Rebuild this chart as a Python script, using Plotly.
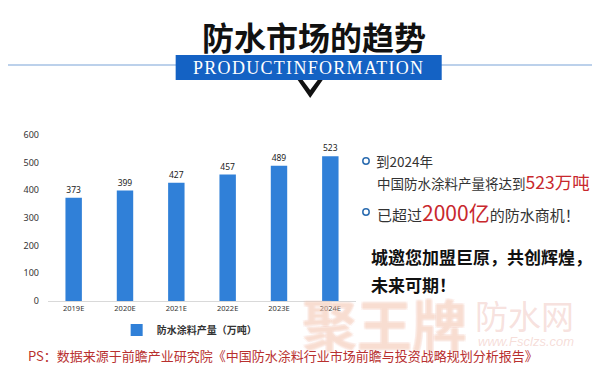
import plotly.graph_objects as go

# ---- data ----
years = ["2019E", "2020E", "2021E", "2022E", "2023E", "2024E"]
output_wt = [373, 399, 427, 457, 489, 523]   # 防水涂料产量（万吨）
series_name = "防水涂料产量（万吨）"
y_ticks = [0, 100, 200, 300, 400, 500, 600]

title_text = "防水市场的趋势"
banner_text = "PRODUCTINFORMATION"
note_line1 = "到2024年"
note_line2a = "中国防水涂料产量将达到"
note_line2b = "523万吨"
note_line3a = "已超过"
note_line3b = "2000亿"
note_line3c = "的防水商机！"
slogan1 = "城邀您加盟巨原，共创辉煌，"
slogan2 = "未来可期！"
source_text = "PS：数据来源于前瞻产业研究院《中国防水涂料行业市场前瞻与投资战略规划分析报告》"
wm_big = "聚王牌"
wm_mid = "防水网"
wm_url = "www.Fsclzs.com"

# ---- layout geometry (pixels) ----
W, H = 600, 369
X0, X1 = 40.35, 348.3
YB, YT = 293, 127
PW, PH = X1 - X0, YB - YT


def px(x):
    return (x - X0) / PW


def py(y):
    return (YB - y) / PH


CJK = "Noto Sans CJK SC"
BLUE = "#1462c4"
RED = "#c8282d"
TXT = "#333333"

fig = go.Figure()
fig.add_trace(go.Bar(
    x=years, y=output_wt, name=series_name,
    marker=dict(color="#3080d8", line=dict(width=0)),
    texttemplate="%{y}", textposition="outside",
    textfont=dict(size=8.5, color="#222222", family="Noto Sans"),
    cliponaxis=False,
))

shapes = []
# horizontal header line
shapes.append(dict(type="line", xref="paper", yref="paper",
                   x0=px(0), x1=px(600), y0=py(57), y1=py(57),
                   line=dict(color="#7aa3d8", width=1.2), layer="below"))
# banner
shapes.append(dict(type="rect", xref="paper", yref="paper",
                   x0=px(168), x1=px(434), y0=py(72), y1=py(47),
                   fillcolor=BLUE, line=dict(width=0), layer="above"))
# chevron
pts = [(290, 72), (302.5, 90), (315, 72), (310, 72), (302.5, 82), (295, 72)]
path = "M " + " L ".join(f"{px(a):.5f},{py(b):.5f}" for a, b in pts) + " Z"
shapes.append(dict(type="path", xref="paper", yref="paper", path=path,
                   fillcolor="#111111", line=dict(width=0)))
# bullets
for yy in (153, 204):
    r = 3.2
    shapes.append(dict(type="circle", xref="paper", yref="paper",
                       x0=px(358.3 - r), x1=px(358.3 + r), y0=py(yy + r), y1=py(yy - r),
                       line=dict(color="#2b6cb0", width=1.5), fillcolor="rgba(0,0,0,0)"))
# bottom faint line
shapes.append(dict(type="line", xref="paper", yref="paper",
                   x0=px(0), x1=px(600), y0=py(367), y1=py(367),
                   line=dict(color="#eeeeee", width=1)))

ann = []


def add_text(x, y, text, size, color=TXT, anchor="left", family=CJK, weight="normal",
             style="normal", shadow=None):
    f = dict(size=size, color=color, family=family, weight=weight, style=style)
    if shadow:
        f["shadow"] = shadow
    ann.append(dict(x=px(x), y=py(y), xref="paper", yref="paper", text=text,
                    showarrow=False, xanchor=anchor, yanchor="middle", font=f))


# watermark first (drawn beneath other annotations), semi-transparent
oc = "rgba(235,170,160,0.35)"
outline = f"1px 1px 0 {oc}, -1px -1px 0 {oc}, 1px -1px 0 {oc}, -1px 1px 0 {oc}"
add_text(377, 314, wm_big, 55, color="rgba(248,220,200,0.35)", anchor="center",
         weight="bold", shadow=outline)
add_text(517, 307, wm_mid, 33, color="rgba(235,180,170,0.4)", anchor="center")
add_text(518, 333, wm_url, 13, color="rgba(235,180,170,0.45)", anchor="center",
         family="Liberation Sans", style="italic")

add_text(306, 28, title_text, 32, color="#111111", anchor="center", weight="bold")
add_text(301, 59.5, f'<span style="letter-spacing:1.3px">{banner_text}</span>', 18,
         color="#ffffff", anchor="center", family="Liberation Serif")

add_text(366, 153, note_line1, 13.5)
add_text(367, 173, f'{note_line2a}<span style="font-size:17.5px;color:{RED}">{note_line2b}</span>', 13.5)
add_text(367, 204, f'{note_line3a}<span style="font-size:21px;color:{RED}">{note_line3b}</span>{note_line3c}', 15)
add_text(361, 248, slogan1, 17, color="#111111", weight="bold")
add_text(361, 276, slogan2, 17, color="#111111", weight="bold")

add_text(18, 347, source_text, 13, color="#b8302f")

fig.update_layout(
    width=W, height=H,
    margin=dict(l=X0, r=W - X1, t=YT, b=H - YB, pad=0, autoexpand=False),
    paper_bgcolor="#ffffff", plot_bgcolor="#ffffff",
    bargap=0.68,
    showlegend=True,
    legend=dict(orientation="h", x=px(109), y=py(322), xanchor="left", yanchor="middle",
                font=dict(size=10, color=TXT, family=CJK, weight="bold"),
                bgcolor="rgba(0,0,0,0)"),
    xaxis=dict(showgrid=False, showline=True, linecolor="#d9d9d9", linewidth=1,
               ticks="", tickfont=dict(size=7.5, color=TXT, family="Noto Sans"),
               zeroline=False),
    yaxis=dict(range=[0, 600], tickvals=y_ticks, showgrid=False, showline=False,
               zeroline=False, ticks="", ticklabelstandoff=8,
               tickfont=dict(size=9, color=TXT, family="Noto Sans")),
    shapes=shapes,
    annotations=ann,
)

fig.write_html("out.html")
